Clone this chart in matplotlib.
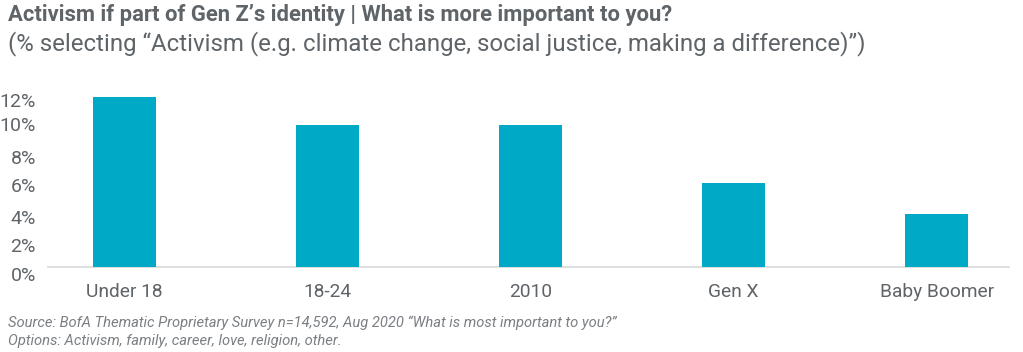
import numpy as np
import matplotlib.pyplot as plt

plt.rcParams['font.family'] = ['Roboto', 'DejaVu Sans']

# data
categories = ['Under 18', '18-24', '2010', 'Gen X', 'Baby Boomer']
values = [12.0, 10.0, 10.0, 5.9, 3.7]
tick_vals = [-0.5, 1.55, 3.55, 5.8, 7.75, 10.1, 11.8]
tick_labels = ['0%', '2%', '4%', '6%', '8%', '10%', '12%']

bar_color = '#00A9C6'
text_gray = '#5f6468'

fig = plt.figure(figsize=(10.23, 3.52), dpi=100)
ax = fig.add_axes([0.046, 0.2017, 0.941, 0.5429])

x = np.arange(len(categories))
ax.bar(x, values, width=0.31, color=bar_color, zorder=2)
ax.axhline(0, color='#d9d9d9', lw=1.2, zorder=1)

ax.set_xlim(-0.38, 4.36)
ax.set_ylim(-1, 12.5)
ax.set_xticks(x)
ax.set_xticklabels(categories, fontsize=13.8, color=text_gray)
ax.set_yticks(tick_vals)
ax.set_yticklabels(tick_labels, fontsize=14, color=text_gray)
ax.tick_params(axis='both', length=0)
ax.tick_params(axis='x', pad=1.5)
ax.tick_params(axis='y', pad=8)
for s in ax.spines.values():
    s.set_visible(False)

fig.text(0.008, 0.958, 'Activism if part of Gen Z\u2019s identity | What is more important to you?',
         fontsize=15.8, fontweight='bold', color=text_gray, va='center')
fig.text(0.008, 0.875, '(% selecting \u201cActivism (e.g. climate change, social justice, making a difference)\u201d)',
         fontsize=17.3, color=text_gray, va='center')
fig.text(0.008, 0.082, 'Source: BofA Thematic Proprietary Survey n=14,592, Aug 2020 \u201cWhat is most important to you?\u201d',
         fontsize=10.6, style='italic', color='#7a7f83', va='center')
fig.text(0.008, 0.031, 'Options: Activism, family, career, love, religion, other.',
         fontsize=10.6, style='italic', color='#7a7f83', va='center')

fig.savefig('out.png', dpi=100)
